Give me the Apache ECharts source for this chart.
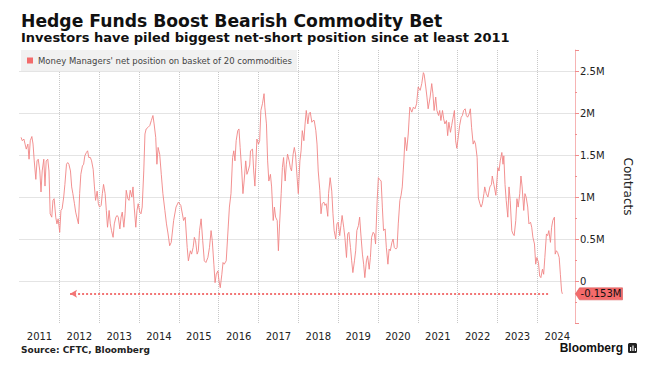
<!DOCTYPE html>
<html><head><meta charset="utf-8">
<script src="https://cdn.jsdelivr.net/npm/echarts@6/dist/echarts.min.js"></script>
<style>html,body{margin:0;padding:0;background:#fff}#c{width:655px;height:367px}</style>
</head><body><div id="c"></div>
<script>
const titleText = 'Hedge Funds Boost Bearish Commodity Bet';
const subtitleText = 'Investors have piled biggest net-short position since at least 2011';
const sourceText = 'Source: CFTC, Bloomberg';
const brandText = 'Bloomberg';
const seriesName = "Money Managers' net position on basket of 20 commodities";
const yAxisName = 'Contracts';

// time as decimal years
const dates = [
2011.04,2011.07,2011.11,2011.14,2011.17,2011.21,2011.24,2011.27,2011.31,2011.34,2011.37,2011.41,2011.44,2011.47,2011.51,2011.54,2011.57,2011.61,2011.64,2011.67,2011.71,2011.74,2011.77,2011.81,2011.84,2011.87,2011.91,2011.94,2011.97,
2012.01,2012.04,2012.07,2012.11,2012.14,2012.18,2012.21,2012.24,2012.28,2012.31,2012.34,2012.38,2012.41,2012.44,2012.48,2012.51,2012.54,2012.58,2012.61,2012.64,2012.68,2012.71,2012.74,2012.78,2012.81,2012.85,2012.88,2012.91,2012.95,2012.98,
2013.01,2013.05,2013.08,2013.11,2013.15,2013.18,2013.21,2013.25,2013.28,2013.31,2013.35,2013.38,2013.42,2013.45,2013.48,2013.52,2013.55,2013.58,2013.62,2013.65,2013.68,2013.72,2013.75,2013.78,2013.82,2013.85,2013.88,2013.92,2013.95,2013.98,
2014.02,2014.05,2014.08,2014.12,2014.15,2014.18,2014.23,2014.27,2014.31,2014.35,2014.38,2014.42,2014.45,2014.48,2014.52,2014.56,2014.60,2014.65,2014.69,2014.73,2014.77,2014.81,2014.87,2014.93,2014.99,
2015.05,2015.12,2015.16,2015.21,2015.24,2015.29,2015.32,2015.36,2015.39,2015.42,2015.46,2015.49,2015.52,2015.56,2015.60,2015.64,2015.68,2015.73,2015.77,2015.81,2015.84,2015.88,2015.91,2015.94,2015.98,
2016.01,2016.04,2016.08,2016.11,2016.14,2016.19,2016.23,2016.27,2016.31,2016.35,2016.38,2016.41,2016.44,2016.48,2016.51,2016.54,2016.58,2016.61,2016.64,2016.68,2016.71,2016.74,2016.78,2016.80,2016.85,2016.88,2016.91,2016.93,2016.96,
2017.00,2017.03,2017.06,2017.10,2017.14,2017.16,2017.20,2017.23,2017.26,2017.30,2017.33,2017.37,2017.40,2017.43,2017.47,2017.50,2017.53,2017.57,2017.60,2017.63,2017.67,2017.70,2017.73,2017.77,2017.80,2017.83,2017.87,2017.90,2017.93,2017.97,
2018.00,2018.04,2018.07,2018.10,2018.14,2018.17,2018.20,2018.24,2018.27,2018.30,2018.34,2018.37,2018.40,2018.44,2018.47,2018.50,2018.54,2018.57,2018.60,2018.64,2018.67,2018.70,2018.74,2018.76,2018.80,2018.84,2018.87,2018.90,2018.94,2018.97,
2019.00,2019.04,2019.07,2019.10,2019.14,2019.17,2019.21,2019.24,2019.27,2019.31,2019.34,2019.37,2019.41,2019.44,2019.47,2019.51,2019.54,2019.57,2019.61,2019.64,2019.67,2019.71,2019.74,2019.78,2019.81,2019.84,2019.88,2019.91,2019.94,2019.98,
2020.01,2020.04,2020.08,2020.11,2020.14,2020.18,2020.21,2020.25,2020.28,2020.31,2020.35,2020.38,2020.41,2020.45,2020.48,2020.51,2020.55,2020.58,2020.61,2020.65,2020.68,2020.72,2020.76,2020.80,2020.85,2020.89,2020.93,2020.97,
2021.01,2021.06,2021.10,2021.14,2021.16,2021.20,2021.23,2021.26,2021.31,2021.35,2021.38,2021.41,2021.45,2021.48,2021.52,2021.55,2021.58,2021.62,2021.65,2021.68,2021.72,2021.75,2021.78,2021.82,2021.85,2021.88,2021.92,2021.95,2021.98,
2022.02,2022.05,2022.09,2022.12,2022.15,2022.19,2022.22,2022.25,2022.29,2022.32,2022.35,2022.39,2022.42,2022.45,2022.49,2022.52,2022.56,2022.59,2022.62,2022.66,2022.68,2022.72,2022.76,2022.81,2022.85,2022.87,2022.91,2022.96,
2023.01,2023.04,2023.07,2023.11,2023.14,2023.16,2023.19,2023.22,2023.26,2023.29,2023.32,2023.36,2023.39,2023.42,2023.46,2023.49,2023.52,2023.56,2023.59,2023.62,2023.66,2023.69,2023.72,2023.76,2023.79,2023.83,2023.86,2023.89,2023.93,2023.96,2023.99,
2024.03,2024.06,2024.09,2024.13,2024.16,2024.19,2024.23,2024.26,2024.29,2024.33,2024.36,2024.39,2024.43,2024.45,2024.48,2024.51,2024.55,2024.58,2024.61,2024.63
];
// net position, millions of contracts
const netPosition = [
1.71,1.67,1.69,1.63,1.57,1.63,1.45,1.67,1.72,1.63,1.43,1.21,1.43,1.45,1.31,1.06,1.31,1.45,1.13,1.43,1.45,1.31,0.80,0.76,0.96,0.98,0.76,0.68,0.74,
0.58,0.84,0.86,1.00,1.15,1.39,1.41,1.39,1.31,1.12,1.04,0.92,0.82,0.76,0.68,1.04,1.27,1.37,1.39,1.49,1.53,1.55,1.47,1.47,1.43,1.33,1.13,0.96,1.07,0.92,
0.88,0.90,1.04,1.15,1.04,0.84,0.64,0.84,0.68,0.60,0.52,0.68,0.76,0.78,0.76,0.62,0.76,0.82,0.64,0.80,1.08,0.98,0.96,1.08,1.00,1.12,0.88,0.64,0.84,0.92,
0.82,0.80,0.88,1.31,1.75,1.81,1.83,1.85,1.91,1.97,1.87,1.71,1.39,1.59,1.51,1.27,1.04,0.84,0.68,0.56,0.42,0.46,0.72,0.88,0.94,
0.90,0.72,0.76,0.40,0.24,0.36,0.32,0.40,0.52,0.48,0.32,0.36,0.60,0.74,0.48,0.24,0.22,0.28,0.40,0.60,0.48,0.20,-0.02,0.08,0.12,
0.00,-0.08,0.08,0.22,0.20,0.24,0.56,0.88,1.04,1.47,1.55,1.43,1.67,1.79,1.81,1.59,1.31,1.04,1.19,1.43,1.27,1.31,1.38,1.55,1.57,1.31,1.13,1.35,1.69,
1.63,1.67,2.03,2.11,2.23,2.07,1.87,1.43,1.19,1.27,1.12,0.72,0.88,0.76,0.72,0.36,0.68,1.04,1.35,1.47,1.19,1.39,1.51,1.43,1.35,1.31,1.51,1.59,1.51,1.23,
1.04,1.43,1.55,1.79,1.67,1.87,2.03,1.87,1.99,2.01,1.89,1.91,1.91,1.79,1.63,1.31,1.08,0.80,0.92,0.94,0.90,0.92,0.77,1.04,1.23,1.07,0.80,0.60,0.50,0.68,
0.70,0.54,0.66,0.78,0.64,0.52,0.28,0.56,0.58,0.40,0.24,0.10,0.24,0.36,0.60,0.66,0.76,0.56,0.32,0.20,0.04,0.24,0.30,0.14,0.28,0.52,0.58,0.56,0.44,0.96,
1.23,1.21,1.19,0.88,0.60,0.62,0.40,0.20,0.38,0.36,0.46,0.50,0.40,0.38,0.40,0.68,0.96,1.02,1.12,1.43,1.71,1.55,1.75,2.07,2.01,2.07,2.05,2.11,
2.31,2.27,2.35,2.48,2.46,2.31,2.19,2.05,2.19,2.35,2.23,2.03,2.19,2.03,1.97,2.03,1.91,2.03,1.93,1.87,1.91,1.73,1.89,1.77,1.85,1.93,2.03,1.67,1.58,
1.73,1.85,1.95,1.97,2.03,2.05,1.97,1.95,1.99,2.05,1.83,1.63,1.67,1.63,1.47,0.99,0.92,0.88,0.92,1.04,1.12,1.04,1.00,1.12,1.15,1.25,1.15,1.02,
1.35,1.31,1.43,1.53,1.39,1.49,1.15,0.96,0.76,1.12,0.96,0.60,0.56,0.54,0.72,0.98,0.88,1.04,1.25,1.12,0.84,1.04,1.00,0.88,0.68,0.70,0.64,0.52,0.44,0.20,0.28,
0.22,0.06,0.04,0.14,0.08,0.28,0.56,0.54,0.60,0.46,0.64,0.72,0.76,0.32,0.36,0.34,0.28,0.08,-0.12,-0.153
];
// dotted "lowest since" arrow, in data space (decimal years)
const arrowFrom = 2012.27;
const arrowTo = 2024.32;

const xMin = 2011, xMax = 2024.947, xStep = 1;
const yMin = -0.5, yMax = 2.75, yStep = 0.5;

const FONT = 'DejaVu Sans';
const lastValue = netPosition[netPosition.length - 1];
const seriesData = dates.map((d, i) => [d, netPosition[i]]);

const GRID = '#c8c8c8', T = 'rgba(0,0,0,0)';
const xGridColors = [T]; for (let i = 0; i < 13; i++) xGridColors.push(GRID); xGridColors.push(T);
const yGridColors = [T, GRID, GRID, GRID, GRID, GRID, GRID, T];

const chart = echarts.init(document.getElementById('c'), null, {renderer: 'svg'});
chart.setOption({
  animation: false,
  backgroundColor: '#fff',
  title: [
    {text: titleText, left: 21, top: 12, padding: 0, textStyle: {fontFamily: FONT, fontWeight: 'bold', fontSize: 17.2, color: '#111'}},
    {text: subtitleText, left: 21, top: 31, padding: 0, textStyle: {fontFamily: FONT, fontWeight: 'bold', fontSize: 13, color: '#111'}},
    {text: sourceText, left: 21, top: 345, padding: 0, textStyle: {fontFamily: FONT, fontWeight: 'bold', fontSize: 9, color: '#222'}},
    {text: brandText, right: 32, top: 342, padding: 0, textStyle: {fontFamily: 'Liberation Sans', fontWeight: 'bold', fontSize: 12, color: '#111'}}
  ],
  graphic: [
    {type: 'rect', left: 628, top: 343, shape: {width: 9, height: 10, r: 1.5}, style: {fill: '#222'}, silent: true},
    {type: 'rect', left: 630, top: 347, shape: {width: 1.2, height: 4}, style: {fill: '#fff'}, silent: true},
    {type: 'rect', left: 632.4, top: 345.5, shape: {width: 1.2, height: 5.5}, style: {fill: '#fff'}, silent: true},
    {type: 'rect', left: 634.8, top: 348, shape: {width: 1.2, height: 3}, style: {fill: '#fff'}, silent: true}
  ],
  legend: {
    show: true, left: 21, top: 50, orient: 'horizontal',
    backgroundColor: '#f1f1f1', padding: [6, 5, 6, 6],
    itemWidth: 6, itemHeight: 6, icon: 'rect', selectedMode: false,
    textStyle: {fontFamily: FONT, fontSize: 8.5, color: '#444'},
    data: [seriesName]
  },
  grid: {left: 19.5, right: 80, top: 50, bottom: 44, containLabel: false, outerBoundsMode: 'none'},
  xAxis: {
    type: 'value', min: xMin, max: xMax, interval: xStep,
    axisLine: {show: false}, axisTick: {show: false},
    axisLabel: {
      margin: 8, showMaxLabel: false,
      formatter: v => Number.isInteger(v) ? '{y|' + v + '}' : '',
      rich: {y: {padding: [0, 0, 0, 40], fontFamily: FONT, fontSize: 10, color: '#222'}}
    },
    splitLine: {show: true, lineStyle: {type: 'dotted', width: 1, color: xGridColors}}
  },
  yAxis: {
    type: 'value', position: 'right', min: yMin, max: yMax, interval: yStep,
    name: yAxisName, nameLocation: 'middle', nameRotate: -90, nameGap: 47,
    nameTextStyle: {fontFamily: FONT, fontSize: 12, color: '#222'},
    axisLine: {show: true, lineStyle: {color: '#f6b4b4', width: 1}},
    axisTick: {show: true, length: 4, lineStyle: {color: '#f08c8c'}},
    minorTick: {show: true, splitNumber: 2, length: 2, lineStyle: {color: '#f08c8c'}},
    axisLabel: {
      margin: 5, fontFamily: FONT, fontSize: 10, color: '#222',
      formatter: v => (v < -1e-9 || v > 2.5001) ? '' : (Math.abs(v) < 1e-9 ? '0' : (+v.toFixed(2)) + 'M')
    },
    splitLine: {show: true, lineStyle: {type: 'dotted', width: 1, color: yGridColors}}
  },
  series: [{
    type: 'line', name: seriesName, data: seriesData,
    showSymbol: false, symbol: 'none', silent: true,
    itemStyle: {color: '#f26b6b'},
    lineStyle: {width: 0.9, color: '#f18585'},
    markLine: {
      silent: true, animation: false,
      symbol: ['arrow', 'none'], symbolSize: [6, 7],
      lineStyle: {type: 'dotted', width: 2, color: '#f27575'},
      label: {show: false},
      data: [[{coord: [arrowFrom, lastValue]}, {coord: [arrowTo, lastValue]}]]
    },
    markPoint: {
      silent: true, animation: false,
      symbol: 'path://M0,6L4,0L47,0L47,12L4,12Z', symbolSize: [47, 12], symbolKeepAspect: false,
      symbolOffset: [24, 0],
      itemStyle: {color: '#f46b6b', borderColor: '#d85a5a', borderWidth: 0.5},
      label: {show: true, position: 'inside', offset: [2, 0], formatter: lastValue.toFixed(3) + 'M',
              fontFamily: FONT, fontSize: 10, color: '#111'},
      data: [{coord: [xMax, lastValue]}]
    }
  }]
});
</script>
</body></html>
